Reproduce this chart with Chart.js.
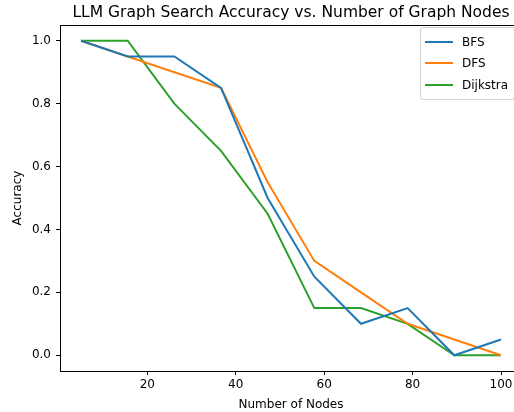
<!DOCTYPE html>
<html lang="en">

<head>
    <meta charset="UTF-8">
    <title>LLM Graph Search Accuracy</title>
    <script src="https://cdn.jsdelivr.net/npm/chart.js"></script>
    <style>
        html, body {
            margin: 0;
            padding: 0;
            background: #fff;
            overflow: hidden;
        }

        #wrap {
            position: relative;
            width: 530px;
            height: 412px;
        }

        #title {
            position: absolute;
            top: 3px;
            font-family: "DejaVu Sans", sans-serif;
            font-size: 15.5px;
            line-height: 19px;
            color: #000;
            text-align: center;
            white-space: nowrap;
        }

        /* legend box drawn like matplotlib's, inside the axes */
        #legend {
            position: absolute;
            border: 1px solid #d0d0d0;
            border-radius: 3px;
            background: rgba(255, 255, 255, 0.8);
            font-family: "DejaVu Sans", sans-serif;
            font-size: 12px;
            color: #000;
            padding: 3px 6px 3px 4px;
        }

        .legend-row {
            display: flex;
            align-items: center;
            height: 21.5px;
        }

        .legend-line {
            width: 28px;
            height: 2px;
            margin-right: 9px;
        }
    </style>
</head>

<body>
    <div id="wrap">
        <canvas id="chart" width="530" height="412"></canvas>
        <div id="title">LLM Graph Search Accuracy vs. Number of Graph Nodes</div>
        <div id="legend"></div>
    </div>

    <script>
        const nodes = [5, 15.56, 26.11, 36.67, 47.22, 57.78, 68.33, 78.89, 89.44, 100];
        const bfs = [1.0, 0.95, 0.95, 0.85, 0.5, 0.25, 0.1, 0.15, 0.0, 0.05];
        const dfs = [1.0, 0.95, 0.9, 0.85, 0.55, 0.3, 0.2, 0.1, 0.05, 0.0];
        const dijkstra = [1.0, 1.0, 0.8, 0.65, 0.45, 0.15, 0.15, 0.1, 0.0, 0.0];
        const xTicks = [20, 40, 60, 80, 100];
        const yTicks = [0.0, 0.2, 0.4, 0.6, 0.8, 1.0];

        const seriesNames = ['BFS', 'DFS', 'Dijkstra'];
        const seriesData = [bfs, dfs, dijkstra];
        const colors = ['#1f77b4', '#ff7f0e', '#2ca02c'];

        const font = "'DejaVu Sans', sans-serif";

        // draws the full box around the plot area (matplotlib spines)
        const frame = {
            id: 'frame',
            afterDraw(chart) {
                const a = chart.chartArea;
                const ctx = chart.ctx;
                ctx.save();
                ctx.strokeStyle = '#000';
                ctx.lineWidth = 1;
                ctx.strokeRect(Math.round(a.left) + 0.5, Math.round(a.top) + 0.5,
                    Math.round(a.right - a.left), Math.round(a.bottom - a.top));
                ctx.restore();
            }
        };

        const datasets = seriesNames.map((name, i) => ({
            label: name,
            data: nodes.map((x, j) => ({ x: x, y: seriesData[i][j] })),
            borderColor: colors[i],
            backgroundColor: colors[i],
            borderWidth: 2,
            pointRadius: 0,
            tension: 0,
            fill: false
        }));

        const chart = new Chart(document.getElementById('chart'), {
            type: 'line',
            data: { datasets: datasets },
            options: {
                responsive: false,
                animation: false,
                layout: { padding: { left: 11, right: 8, top: 25, bottom: 0 } },
                plugins: {
                    legend: { display: false },
                    tooltip: { enabled: false }
                },
                scales: {
                    x: {
                        type: 'linear',
                        min: 0.25,
                        max: 104.75,
                        afterBuildTicks: s => { s.ticks = xTicks.map(v => ({ value: v })); },
                        afterFit: s => { s.height = 41; },
                        grid: { drawOnChartArea: false, tickLength: 4, color: '#000' },
                        border: { display: false },
                        ticks: {
                            color: '#000',
                            font: { family: font, size: 12 },
                            padding: 3,
                            maxRotation: 0,
                            callback: v => String(v)
                        },
                        title: {
                            display: true,
                            text: 'Number of Nodes',
                            color: '#000',
                            font: { family: font, size: 12 },
                            padding: { top: 0, bottom: 0 }
                        }
                    },
                    y: {
                        type: 'linear',
                        min: -0.05,
                        max: 1.05,
                        afterBuildTicks: s => { s.ticks = yTicks.map(v => ({ value: v })); },
                        afterFit: s => { s.width = 49; },
                        grid: { drawOnChartArea: false, tickLength: 4, color: '#000' },
                        border: { display: false },
                        ticks: {
                            color: '#000',
                            font: { family: font, size: 12 },
                            padding: 5,
                            callback: v => v.toFixed(1)
                        },
                        title: {
                            display: true,
                            text: 'Accuracy',
                            color: '#000',
                            font: { family: font, size: 12 },
                            padding: { top: 0, bottom: 2 }
                        }
                    }
                }
            },
            plugins: [frame]
        });

        const area = chart.chartArea;

        // title centred over the axes, not the whole canvas
        const title = document.getElementById('title');
        title.style.left = area.left + 'px';
        title.style.width = (area.right - area.left) + 'px';

        // html legend in the upper right corner of the axes
        const legend = document.getElementById('legend');
        seriesNames.forEach((name, i) => {
            const row = document.createElement('div');
            row.className = 'legend-row';
            row.innerHTML = '<span class="legend-line" style="background:' + colors[i] + '"></span>' + name;
            legend.appendChild(row);
        });
        legend.style.left = '420px';
        legend.style.top = (area.top + 2) + 'px';
    </script>
</body>

</html>
